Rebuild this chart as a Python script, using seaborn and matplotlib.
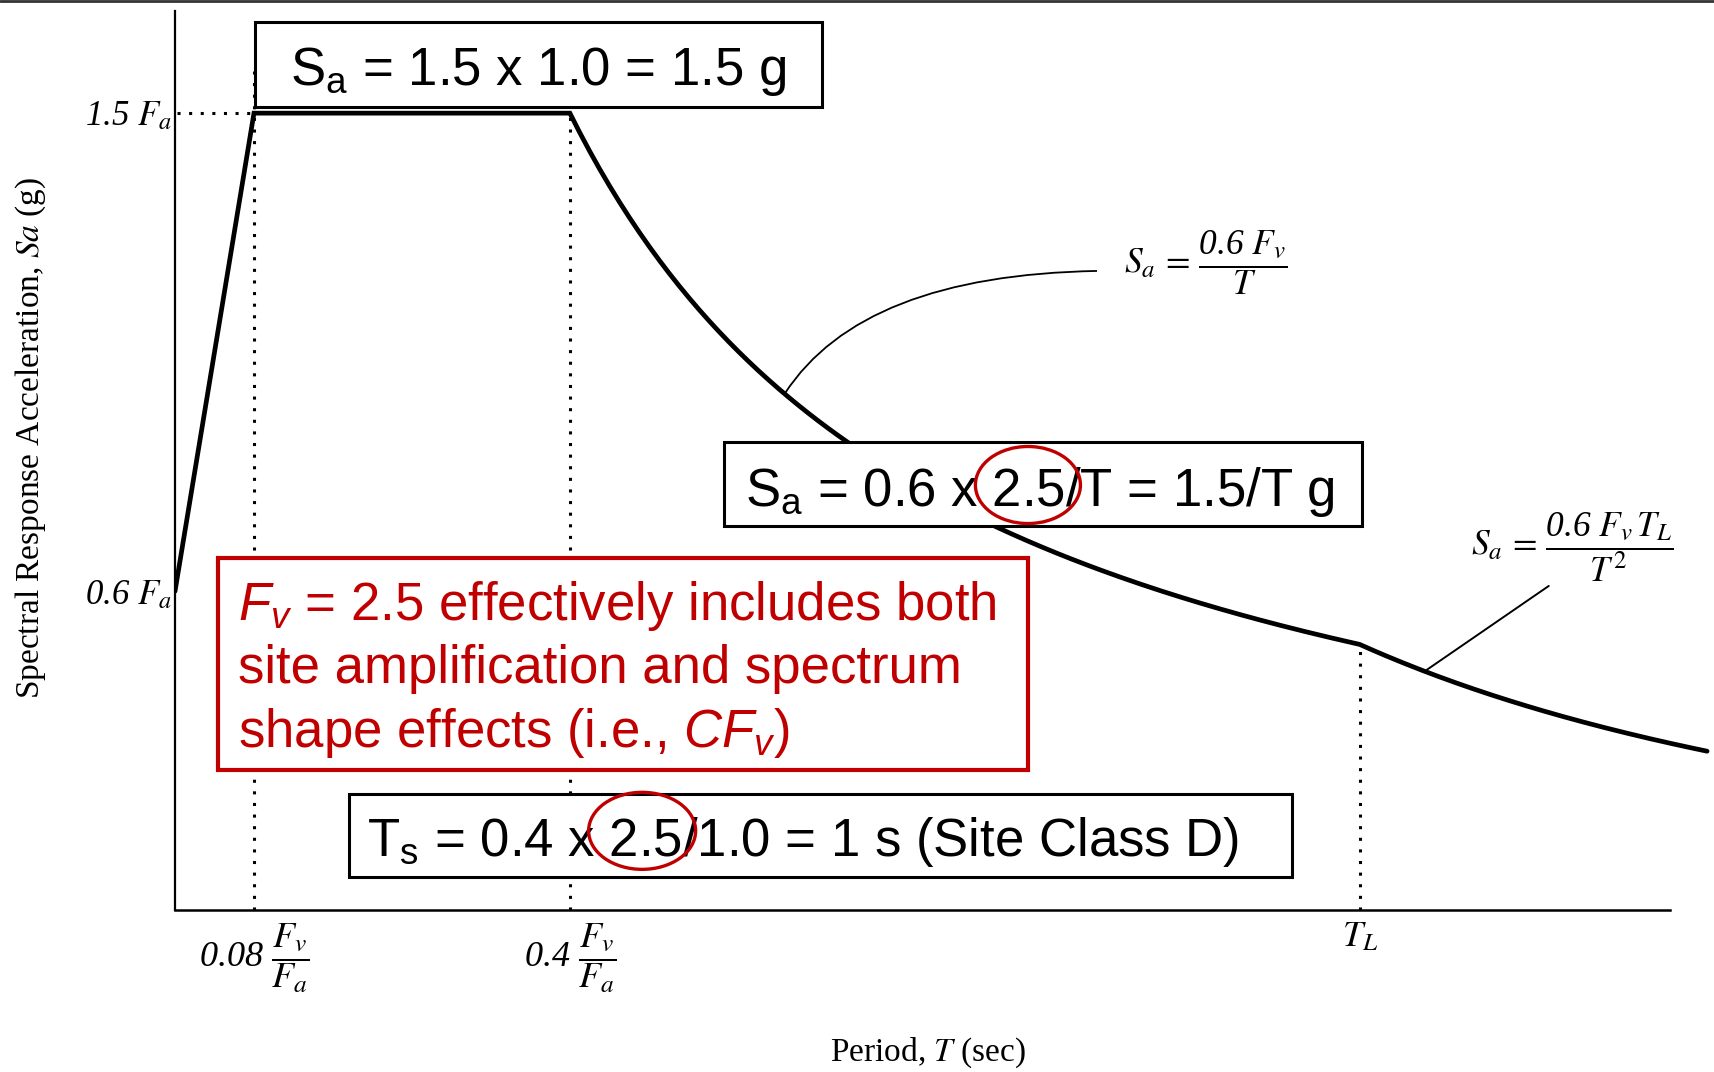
import numpy as np
import pandas as pd
import matplotlib
matplotlib.use("Agg")
import matplotlib.pyplot as plt
import seaborn as sns
from matplotlib.patches import Rectangle, Ellipse, PathPatch
from matplotlib.path import Path
from matplotlib.lines import Line2D

# ---- spectrum parameters (Site Class D example) ----
Fa = 1.0
Fv = 2.5
TL = 3.0
T_END = 3.88

T0 = 0.08 * Fv / Fa      # start of plateau
TS = 0.4 * Fv / Fa       # end of plateau
SDS = 1.5 * Fa           # plateau level
SD1 = 0.6 * Fv           # Sa = SD1 / T

# period breakpoints and the descending branches
period = np.concatenate([
    [0.0, T0, TS],
    np.linspace(TS, TL, 160)[1:],
    np.linspace(TL, T_END, 80)[1:],
])

sa = np.where(
    period <= T0, 0.6 * Fa + (SDS - 0.6 * Fa) * period / T0,
    np.where(period <= TS, SDS,
             np.where(period <= TL, SD1 / np.maximum(period, 1e-9),
                      SD1 * TL / np.maximum(period, 1e-9) ** 2)))

xtick_pos = [T0, TS, TL]
xtick_labels = [r"0.08 $\dfrac{F_v}{F_a}$",
                r"0.4 $\dfrac{F_v}{F_a}$",
                r"$T_L$"]
ytick_pos = [0.6 * Fa, 1.5 * Fa]
ytick_labels = [r"0.6 $F_a$", r"1.5 $F_a$"]

RED = "#C00000"

sns.set_theme(style="white")
plt.rcParams.update({
    "font.family": ["Liberation Sans", "DejaVu Sans"],
    "text.color": "black",
    "mathtext.fontset": "custom",
    "mathtext.rm": "Liberation Sans",
    "mathtext.it": "Liberation Sans:italic",
    "mathtext.bf": "Liberation Sans:bold",
})

fig = plt.figure(figsize=(17.15, 10.72), dpi=100)
ax = fig.add_axes([175 / 1715, 162 / 1072, 1540 / 1715, 910 / 1072])

df = pd.DataFrame({"T": period, "Sa": sa})
sns.lineplot(data=df, x="T", y="Sa", color="black", lw=3.4, ax=ax,
             sort=False, zorder=3, solid_joinstyle="miter")

ax.set_xlim(0, 3.9)
ax.set_ylim(0, 1.713)
ax.set_xlabel("")
ax.set_ylabel("")

for side in ("top", "right"):
    ax.spines[side].set_visible(False)
ax.spines["left"].set_bounds(0, 1.693)
ax.spines["bottom"].set_bounds(0, 3.786)
ax.spines["left"].set_linewidth(1.6)
ax.spines["bottom"].set_linewidth(1.8)
for s in ("left", "bottom"):
    ax.spines[s].set_color("black")

ital = dict(fontfamily="Liberation Serif", fontstyle="italic",
            math_fontfamily="stix", color="black")
ax.set_xticks(xtick_pos)
ax.set_xticklabels(xtick_labels, fontsize=26, **ital)
ax.set_yticks(ytick_pos)
ax.set_yticklabels(ytick_labels, fontsize=25, **ital)
ax.tick_params(axis="x", length=0, pad=8)
ax.tick_params(axis="y", length=0, pad=2)

# dotted guides
dot = dict(color="black", lw=2.2, linestyle=(0, (1.0, 2.8)), zorder=2)
ax.plot([0.005, T0], [SDS, SDS], **dot)
ax.plot([T0, T0], [0, 1.58], **dot)
ax.plot([TS, TS], [0, SDS], **dot)
ax.plot([TL, TL], [0, SD1 / TL], **dot)

# axis titles
serif = dict(fontfamily="Liberation Serif", math_fontfamily="stix", color="black")
ax.text(-0.0935, 0.519, r"Spectral Response Acceleration, $\mathit{Sa}$ (g)",
        transform=ax.transAxes, rotation=90, ha="center", va="center",
        fontsize=24, **serif)
ax.text(0.489, -0.157, r"Period, $T$ (sec)", transform=ax.transAxes,
        ha="center", va="center", fontsize=24, **serif)

# formula callouts
ax.text(2.403, 1.218, r"$S_a\,=\,\dfrac{\mathregular{0.6}\ F_v}{T}$",
        ha="left", va="center", fontsize=25.5, **ital)
ax.text(3.282, 0.683, r"$S_a\,=\,\dfrac{\mathregular{0.6}\ F_v\,T_L}{T^2}$",
        ha="left", va="center", fontsize=25.5, **ital)

leader = Path([(1.545, 0.973), (1.74, 1.195), (2.335, 1.203)],
              [Path.MOVETO, Path.CURVE3, Path.CURVE3])
ax.add_patch(PathPatch(leader, facecolor="none", edgecolor="black", lw=1.3, zorder=4))
ax.plot([3.170, 3.479], [0.452, 0.610], color="black", lw=1.4, zorder=4)


def box(x0, x1, y0, y1, edge, lw):
    ax.add_patch(Rectangle((x0, y0), x1 - x0, y1 - y0, facecolor="white",
                           edgecolor=edge, lw=lw, zorder=5))


FS = 38
box(0.203, 1.638, 1.512, 1.672, "black", 2.2)
ax.text(0.291, 1.553, r"S$_{\mathregular{a}}$ = 1.5 x 1.0 = 1.5 g",
        fontsize=FS, ha="left", va="baseline", zorder=6)

box(1.390, 3.006, 0.723, 0.881, "black", 2.2)
ax.text(1.443, 0.760, r"S$_{\mathregular{a}}$ = 0.6 x 2.5/T = 1.5/T g",
        fontsize=FS, ha="left", va="baseline", zorder=6)
ax.add_patch(Ellipse((2.160, 0.800), 0.266, 0.145, facecolor="none",
                     edgecolor=RED, lw=2.4, zorder=7))

box(0.109, 2.160, 0.264, 0.663, RED, 3.0)
red_lines = [r"$F_v$ = 2.5 effectively includes both",
             "site amplification and spectrum",
             r"shape effects (i.e., $CF_v$)"]
for line, y in zip(red_lines, [0.546, 0.4265, 0.307]):
    ax.text(0.160, y, line, fontsize=FS, color=RED, ha="left",
            va="baseline", zorder=6)

box(0.441, 2.829, 0.062, 0.218, "black", 2.2)
ax.text(0.486, 0.102, r"T$_{\mathregular{s}}$ = 0.4 x 2.5/1.0 = 1 s (Site Class D)",
        fontsize=FS, ha="left", va="baseline", zorder=6)
ax.add_patch(Ellipse((1.183, 0.149), 0.271, 0.145, facecolor="none",
                     edgecolor=RED, lw=2.4, zorder=7))

# rule across the top edge
fig.add_artist(Line2D([0, 1], [1 - 1 / 1072, 1 - 1 / 1072],
                      transform=fig.transFigure, color="#333333", lw=2))

fig.savefig("out.png", dpi=100)
